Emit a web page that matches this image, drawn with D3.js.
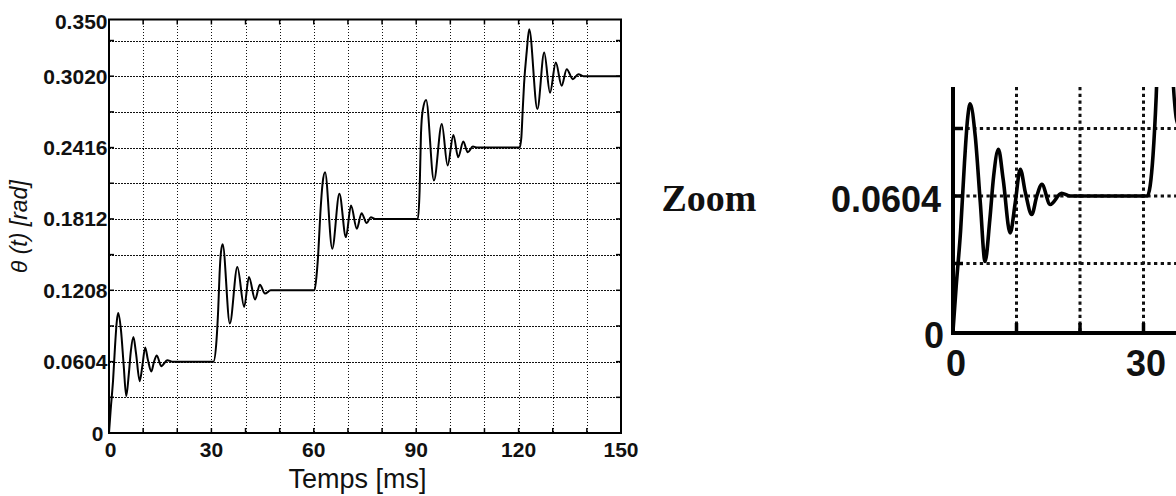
<!DOCTYPE html>
<html><head><meta charset="utf-8">
<script src="https://cdn.jsdelivr.net/npm/d3@7"></script>
<style>body{margin:0;background:#fff} svg{display:block}</style>
</head><body><svg id="c" width="1176" height="496"></svg>
<script>
// ---- data ----
const timeMs = [
  0, 0.5, 1.2, 1.8, 2.3, 2.7, 3.5, 4.3, 5.05, 5.8, 6.4, 7.15, 7.9, 9.0, 9.8, 10.6, 11.4, 12.4, 13.2, 14.0, 15.3, 17.1, 18.5, 30.6,
  31.5, 32.0, 32.4, 32.8, 33.3, 35.4, 37.6, 39.6, 41.0, 42.8, 44.2, 45.7, 47.4, 60.2,
  60.8, 61.3, 61.9, 62.6, 63.3, 65.4, 67.5, 69.4, 70.9, 72.6, 74.0, 75.5, 76.7, 78.0, 90.5,
  91.0, 91.4, 91.9, 92.9, 95.2, 97.5, 99.2, 100.9, 102.3, 103.8, 105.1, 106.6, 108.0, 120.3,
  120.8, 121.2, 121.6, 122.4, 123.1, 125.5, 127.5, 129.2, 130.9, 132.6, 134.1, 135.9, 137.5, 139.0, 150.0
];
const thetaRad = [
  0, 0.020, 0.045, 0.075, 0.095, 0.1016, 0.0873, 0.0574, 0.0311, 0.0499, 0.0693, 0.0813, 0.0679, 0.0439, 0.0574, 0.0724, 0.0619, 0.0521, 0.0604, 0.0656, 0.0566, 0.0616, 0.0604, 0.0604,
  0.0786, 0.105, 0.135, 0.153, 0.1597, 0.0927, 0.1405, 0.1067, 0.1320, 0.1130, 0.1255, 0.1180, 0.1208, 0.1208,
  0.133, 0.1518, 0.185, 0.212, 0.2207, 0.1560, 0.2025, 0.1658, 0.1926, 0.1729, 0.1861, 0.1777, 0.1827, 0.1812, 0.1812,
  0.205, 0.2532, 0.2729, 0.2819, 0.2137, 0.2616, 0.2264, 0.2523, 0.2334, 0.2467, 0.2376, 0.2424, 0.2416, 0.2416,
  0.250, 0.273, 0.2954, 0.3235, 0.3418, 0.2742, 0.3220, 0.2881, 0.3135, 0.2940, 0.3079, 0.2995, 0.3037, 0.3020, 0.3020
];
const xTickValues = [0, 30, 60, 90, 120, 150];
const xTickLabels = ["0", "30", "60", "90", "120", "150"];
const xGridValues = [10, 20, 30, 40, 50, 60, 70, 80, 90, 100, 110, 120, 130, 140];
const yTickValues = [0, 0.0604, 0.1208, 0.1812, 0.2416, 0.3020, 0.350];
const yTickLabels = ["0", "0.0604", "0.1208", "0.1812", "0.2416", "0.3020", "0.350"];
const yGridValues = [0.0302, 0.0604, 0.0906, 0.1208, 0.1510, 0.1812, 0.2114, 0.2416, 0.2718, 0.3020, 0.3322];
const xTitle = "Temps [ms]";
const yTitle = "θ (t) [rad]";
const insetTitle = "Zoom";
const insetXTicks = [0, 30];
const insetXLabels = ["0", "30"];
const insetXGrid = [10, 20, 30];
const insetYTicks = [0, 0.0604];
const insetYLabels = ["0", "0.0604"];
const insetYGrid = [0.0302, 0.0604, 0.0906];

const series = timeMs.map((t, i) => ({t, v: thetaRad[i]}));

// ---- main plot ----
const svg = d3.select("#c");
const L = 109, R = 621, T = 19.5, B = 433;
const x = d3.scaleLinear().domain([0, 150]).range([L, R]);
const y = d3.scaleLinear().domain([0, 0.35]).range([B, T]);
const sans = "'Liberation Sans', Arial, sans-serif";
const px = v => Math.round(v) + 0.5;

const grid = svg.append("g").attr("stroke", "#111").attr("stroke-width", 1)
  .attr("stroke-dasharray", "1.5,1.5").attr("shape-rendering", "crispEdges");
grid.selectAll(".vg").data(xGridValues).join("line")
  .attr("x1", d => px(x(d))).attr("x2", d => px(x(d))).attr("y1", T).attr("y2", B);
grid.selectAll(".hg").data(yGridValues).join("line")
  .attr("y1", d => px(y(d))).attr("y2", d => px(y(d))).attr("x1", L).attr("x2", R);

// ticks (inside, all four sides)
const allX = xGridValues.concat([0, 150]);
const ticks = svg.append("g").attr("stroke", "#000").attr("stroke-width", 1.5);
ticks.selectAll(".tb").data(allX).join("line")
  .attr("x1", d => x(d)).attr("x2", d => x(d)).attr("y1", B).attr("y2", B - 5);
ticks.selectAll(".tt").data(allX).join("line")
  .attr("x1", d => x(d)).attr("x2", d => x(d)).attr("y1", T).attr("y2", T + 5);
ticks.selectAll(".tl").data(yGridValues).join("line")
  .attr("y1", d => y(d)).attr("y2", d => y(d)).attr("x1", L).attr("x2", L + 5);
ticks.selectAll(".tr").data(yGridValues).join("line")
  .attr("y1", d => y(d)).attr("y2", d => y(d)).attr("x1", R).attr("x2", R - 5);

// curve
const line = d3.line().x(d => x(d.t)).y(d => y(d.v)).curve(d3.curveMonotoneX);
svg.append("path").datum(series).attr("d", line)
  .attr("fill", "none").attr("stroke", "#000").attr("stroke-width", 2).attr("stroke-linejoin", "round");

// box
svg.append("rect").attr("x", L).attr("y", T).attr("width", R - L).attr("height", B - T)
  .attr("fill", "none").attr("stroke", "#000").attr("stroke-width", 2);

// tick labels
const lab = svg.append("g").attr("font-family", sans).attr("font-weight", "bold")
  .attr("font-size", 21).attr("fill", "#111");
lab.selectAll(".xl").data(xTickValues).join("text")
  .attr("x", d => x(d) + (d === 0 ? 1.5 : 0)).attr("y", 457).attr("text-anchor", "middle")
  .text((d, i) => xTickLabels[i]);
lab.selectAll(".yl").data(yTickValues).join("text")
  .attr("x", d => d === 0 ? 103.5 : 107.5).attr("y", d => y(d) + 7.5 + (d === 0 ? 0.5 : (d === 0.35 ? 2 : 0)))
  .attr("text-anchor", "end").text((d, i) => yTickLabels[i]);

// axis titles
svg.append("text").attr("x", 357.5).attr("y", 488).attr("text-anchor", "middle")
  .attr("font-family", sans).attr("font-size", 27).attr("fill", "#111").text(xTitle);
svg.append("text").attr("transform", "translate(27,226.7) rotate(-90)").attr("text-anchor", "middle")
  .attr("font-family", sans).attr("font-style", "italic").attr("font-size", 23).attr("fill", "#111").text(yTitle);

// ---- inset ----
svg.append("text").attr("x", 661.5).attr("y", 210.7)
  .attr("font-family", "'Liberation Serif', 'Times New Roman', serif").attr("font-weight", "bold")
  .attr("font-size", 38).attr("fill", "#111").text(insetTitle);

const iL = 953, iR = 1176, iT = 87, iB = 333;
const xi = d3.scaleLinear().domain([0, 30]).range([953, 1143.5]);
const yi = d3.scaleLinear().domain([0, 0.0604]).range([331, 196]);

svg.append("clipPath").attr("id", "ic").append("rect")
  .attr("x", iL).attr("y", iT).attr("width", iR - iL).attr("height", iB - iT);

const ig = svg.append("g").attr("stroke", "#111").attr("stroke-width", 3).attr("stroke-dasharray", "3.3,3.4");
ig.selectAll(".ivg").data(insetXGrid).join("line")
  .attr("x1", d => xi(d)).attr("x2", d => xi(d)).attr("y1", iT).attr("y2", iB);
ig.selectAll(".ihg").data(insetYGrid).join("line")
  .attr("y1", d => yi(d)).attr("y2", d => yi(d)).attr("x1", iL).attr("x2", iR);

const it = svg.append("g").attr("stroke", "#000").attr("stroke-width", 3.5);
it.selectAll(".itb").data(insetXGrid).join("line")
  .attr("x1", d => xi(d)).attr("x2", d => xi(d)).attr("y1", iB).attr("y2", iB - 10);
it.selectAll(".itl").data(insetYGrid).join("line")
  .attr("y1", d => yi(d)).attr("y2", d => yi(d)).attr("x1", iL).attr("x2", iL + 10);

const iline = d3.line().x(d => xi(d.t)).y(d => yi(d.v)).curve(d3.curveMonotoneX);
svg.append("path").datum(series.filter(d => d.t <= 40)).attr("d", iline)
  .attr("clip-path", "url(#ic)").attr("fill", "none").attr("stroke", "#000")
  .attr("stroke-width", 3.6).attr("stroke-linejoin", "round");

svg.append("path").attr("d", `M${iL},${iT}V${iB}H${iR}`)
  .attr("fill", "none").attr("stroke", "#000").attr("stroke-width", 4);

const il = svg.append("g").attr("font-family", sans).attr("font-weight", "bold")
  .attr("font-size", 36).attr("fill", "#111");
il.selectAll(".ixl").data(insetXTicks).join("text")
  .attr("x", d => xi(d) + (d === 0 ? 3 : 2.5)).attr("y", 376).attr("text-anchor", "middle")
  .text((d, i) => insetXLabels[i]);
il.selectAll(".iyl").data(insetYTicks).join("text")
  .attr("x", d => d === 0 ? 944 : 941).attr("y", d => yi(d) + 13 + (d === 0 ? 4 : 2.7))
  .attr("text-anchor", "end").text((d, i) => insetYLabels[i]);
</script>
</body></html>
